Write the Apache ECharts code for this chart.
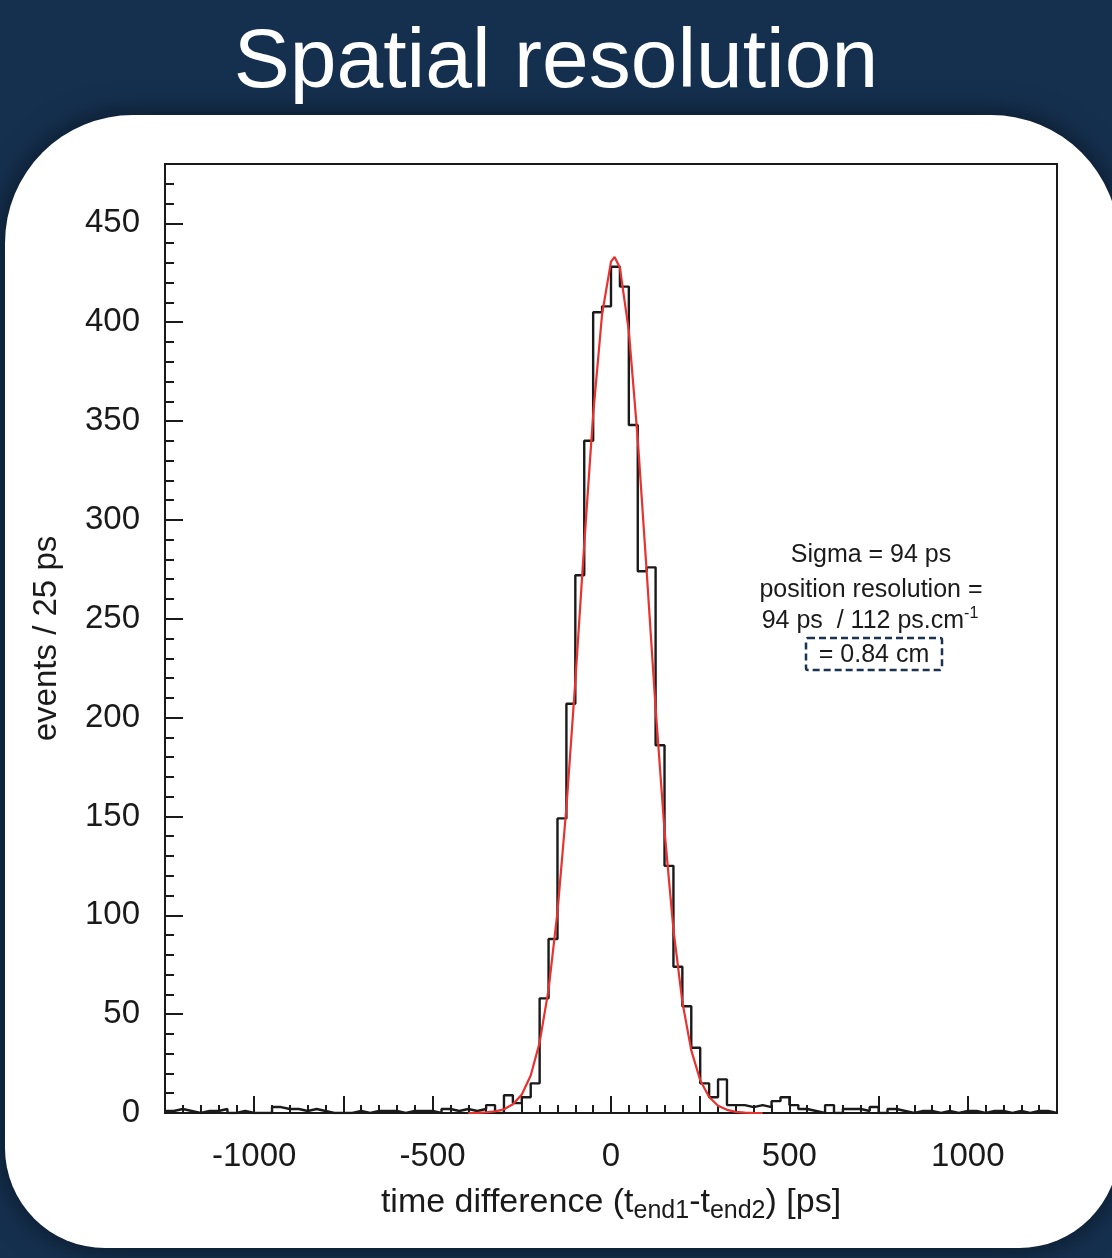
<!DOCTYPE html>
<html>
<head>
<meta charset="utf-8">
<title>Spatial resolution</title>
<script src="https://cdn.jsdelivr.net/npm/echarts@6/dist/echarts.min.js"></script>
<style>
html, body { margin: 0; padding: 0; background: #15304f; }
#chart { width: 1112px; height: 1258px; }
</style>
</head>
<body>
<div id="chart"></div>
<script>
// histogram: 100 bins of 25 ps starting at -1250 ps
const binStart = -1250
const binWidth = 25
const counts = [
  1, 2, 1, 0, 1, 1, 2, 0, 1, 0,
  0, 0, 3, 2, 2, 1, 2, 1, 0, 0,
  0, 1, 0, 1, 1, 1, 0, 1, 1, 1,
  0, 2, 1, 2, 1, 2, 4, 0, 9, 5,
  8, 15, 58, 88, 149, 207, 272, 340, 405, 408,
  428, 418, 348, 274, 276, 186, 125, 74, 54, 33,
  15, 8, 17, 4, 4, 3, 4, 3, 6, 8,
  4, 2, 1, 0, 4, 0, 2, 2, 1, 3,
  0, 2, 1, 0, 1, 1, 0, 1, 0, 1,
  1, 0, 1, 1, 0, 1, 0, 1, 1, 0
]

// gaussian fit curve
const fitX = [-400, -375, -350, -325, -300, -275, -250, -225, -200, -175, -150, -125, -100, -75, -50, -25, 0, 10,
  25, 50, 75, 100, 125, 150, 175, 200, 225, 250, 275, 300, 325, 350, 375, 400, 425]
const fitY = [0, 0.1, 0.3, 0.8, 1.9, 4.4, 9.4, 19, 35.7, 62.4, 101.7, 154.4, 218.3, 287.7, 353.2, 404, 430.6, 433,
  427.5, 395.5, 340.9, 273.8, 204.9, 142.8, 92.8, 56.2, 31.7, 16.6, 8.1, 3.7, 1.6, 0.6, 0.2, 0, 0]

const xMin = -1250
const xMax = 1250
const yMax = 480

const FONT = '"Liberation Sans", Arial, Helvetica, sans-serif'
const INK = '#1a1a1a'

// step points on bin edges
const histPoints = counts.map((c, i) => [binStart + i * binWidth, c])
histPoints.push([binStart + counts.length * binWidth, counts[counts.length - 1]])

const fitPoints = fitX.map((x, i) => [x, fitY[i]])

const chart = echarts.init(document.getElementById('chart'))

const option = {
  backgroundColor: '#15304f',
  animation: false,
  title: {
    text: 'Spatial resolution',
    left: 'center',
    top: 17,
    textStyle: { color: '#ffffff', fontSize: 84, fontWeight: 'normal', fontFamily: FONT }
  },
  grid: {
    left: 165,
    right: 55,
    top: 164,
    bottom: 145,
    show: true,
    borderColor: INK,
    borderWidth: 2,
    backgroundColor: 'transparent'
  },
  xAxis: {
    type: 'value',
    min: xMin,
    max: xMax,
    interval: 250,
    name: '{a|time difference (t}{s|end1}{a|-t}{s|end2}{a|) [ps]}',
    nameLocation: 'middle',
    nameGap: 69,
    nameTextStyle: {
      rich: {
        a: { fontSize: 34, lineHeight: 42, fontFamily: FONT, color: INK },
        s: { fontSize: 25, lineHeight: 25, verticalAlign: 'bottom', fontFamily: FONT, color: INK }
      }
    },
    axisLine: { show: true, onZero: false, lineStyle: { color: INK, width: 2 } },
    axisTick: { inside: true, length: 17, lineStyle: { color: INK, width: 2 } },
    minorTick: { show: true, splitNumber: 5, length: 8, lineStyle: { color: INK, width: 2 } },
    axisLabel: {
      margin: 27,
      fontSize: 33,
      color: INK,
      fontFamily: FONT,
      formatter: (v) => (v % 500 === 0 ? String(v) : '')
    },
    splitLine: { show: false }
  },
  yAxis: [
    {
      type: 'value',
      min: 0,
      max: yMax,
      interval: 50,
      position: 'left',
      name: 'events / 25 ps',
      nameLocation: 'middle',
      nameRotate: 90,
      nameGap: 102,
      nameTextStyle: { fontSize: 33, fontFamily: FONT, color: INK },
      axisLine: { show: true, onZero: false, lineStyle: { color: INK, width: 2 } },
      axisTick: { inside: true, length: 18, lineStyle: { color: INK, width: 2 } },
      axisLabel: {
        margin: 25,
        fontSize: 33,
        color: INK,
        fontFamily: FONT,
        formatter: (v) => (v % 50 === 0 ? String(v) : '')
      },
      splitLine: { show: false }
    },
    {
      // minor ticks every 10 events
      type: 'value',
      min: 0,
      max: yMax,
      interval: 10,
      position: 'left',
      offset: 0,
      axisLine: { show: false, onZero: false },
      axisTick: { inside: true, length: 9, lineStyle: { color: INK, width: 2 } },
      axisLabel: { show: false },
      splitLine: { show: false }
    }
  ],
  series: [
    {
      name: 'events',
      type: 'line',
      step: 'end',
      data: histPoints,
      symbol: 'none',
      lineStyle: { color: INK, width: 2.4 },
      z: 3
    },
    {
      name: 'fit',
      type: 'line',
      data: fitPoints,
      symbol: 'none',
      smooth: false,
      lineStyle: { color: '#e8322f', width: 2.2 },
      z: 4
    }
  ],
  graphic: [
    {
      type: 'rect',
      z: -10,
      shape: { x: 5, y: 115, width: 1114, height: 1133, r: [128, 128, 100, 100] },
      style: { fill: '#ffffff', shadowBlur: 30, shadowColor: 'rgba(0,0,0,0.55)' }
    },
    {
      type: 'text',
      x: 871,
      y: 555,
      style: { text: 'Sigma = 94 ps', fontSize: 25, fontFamily: FONT, fill: INK, align: 'center', verticalAlign: 'middle' }
    },
    {
      type: 'text',
      x: 871,
      y: 590,
      style: { text: 'position resolution =', fontSize: 25, fontFamily: FONT, fill: INK, align: 'center', verticalAlign: 'middle' }
    },
    {
      type: 'text',
      x: 870,
      y: 621,
      style: {
        text: '{a|94 ps  / 112 ps.cm}{b|-1}',
        align: 'center',
        verticalAlign: 'middle',
        rich: {
          a: { fontSize: 25, lineHeight: 30, fontFamily: FONT, fill: INK },
          b: { fontSize: 16, lineHeight: 16, verticalAlign: 'top', fontFamily: FONT, fill: INK }
        }
      }
    },
    {
      type: 'rect',
      shape: { x: 806, y: 638, width: 136, height: 32, r: 2 },
      style: { fill: 'none', stroke: '#1b3352', lineWidth: 2.5, lineDash: [7, 4] }
    },
    {
      type: 'text',
      x: 874,
      y: 655,
      style: { text: '= 0.84 cm', fontSize: 25, fontFamily: FONT, fill: INK, align: 'center', verticalAlign: 'middle' }
    }
  ]
}

chart.setOption(option)
</script>
</body>
</html>
